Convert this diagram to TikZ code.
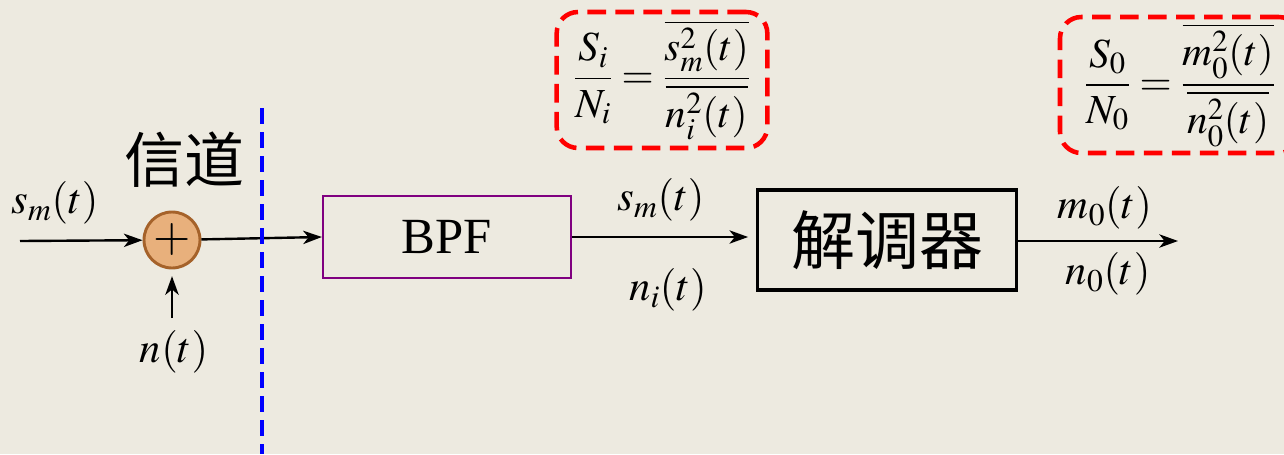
\documentclass[tikz,border=0pt]{standalone}
\usepackage{mathptmx}
\usepackage{fontspec}
\setmainfont{Liberation Serif}
\newfontfamily\cjk{Noto Sans CJK SC}
\usetikzlibrary{arrows.meta}
\definecolor{bg}{HTML}{EDEAE0}
\definecolor{adderfill}{HTML}{E8B07C}
\definecolor{adderdraw}{HTML}{A5622A}
\definecolor{bpfline}{HTML}{800080}

\begin{document}
\begin{tikzpicture}[x=0.75pt,y=-0.75pt, every node/.style={font=\fontsize{32}{38}\selectfont}, box/.style={draw,line width=1.7pt,minimum width=186pt,minimum height=62pt,inner sep=0pt}, arr/.style={-{Stealth[length=14pt,width=10pt,inset=4pt]},line width=1.8pt}, snr/.style={draw=red,line width=3.4pt,dash pattern=on 14pt off 7pt,rounded corners=16pt,inner sep=0pt,font=\fontsize{31}{37}\selectfont}]
\fill[bg] (0,0) rectangle (1284,454);
\useasboundingbox (0,0) rectangle (1284,454);
\node[circle,draw=adderdraw,fill=adderfill,line width=2.2pt,minimum size=42pt,inner sep=0pt,font=\fontsize{36}{36}\selectfont] (add) at (172,240) {$+$};
\coordinate (in) at (20,241);
\coordinate (nz) at (172,318);
\node[box,draw=bpfline,font=\fontsize{38}{38}\selectfont] (bpf) at (447,237) {BPF};
\node[box,line width=2.3pt,minimum width=194pt,minimum height=75pt,font=\cjk\fontsize{48}{48}\selectfont] (demod) at (887,240) {解调器};
\coordinate (out) at (1178,241);
\draw[arr] (in) -- (add);
\draw[arr,shorten >=5pt] (nz) -- (add);
\draw[arr] (add) -- (bpf.west);
\draw[arr,shorten >=6pt] (bpf.east) -- (bpf.east -| demod.west);
\draw[arr] (demod.east |- out) -- (out);
\draw[blue,line width=3pt,dash pattern=on 12pt off 6pt] (262,108) -- (262,454);
% labels
\node (sin) at (55,203) {$s_m(t)$};
\node (nt) at (174,352) {$n(t)$};
\node[font=\cjk\fontsize{45}{45}\selectfont] (chan) at (184,160) {信道};
\node (sm) at (661,200) {$s_m(t)$};
\node (ni) at (668,290) {$n_i(t)$};
\node (m0) at (1105,208) {$m_0(t)$};
\node (n0) at (1108,274) {$n_0(t)$};
% SNR boxes
\node[snr,minimum width=158pt,minimum height=102pt] (snri) at (662,80) {$\displaystyle \frac{S_i}{N_i}=\frac{\overline{s_m^2(t)}}{\overline{n_i^2(t)}}$};
\node[snr,minimum width=180pt,minimum height=102pt] (snro) at (1180,85) {$\displaystyle \frac{S_0}{N_0}=\frac{\overline{m_0^2(t)}}{\overline{n_0^2(t)}}$};
\end{tikzpicture}
\end{document}
